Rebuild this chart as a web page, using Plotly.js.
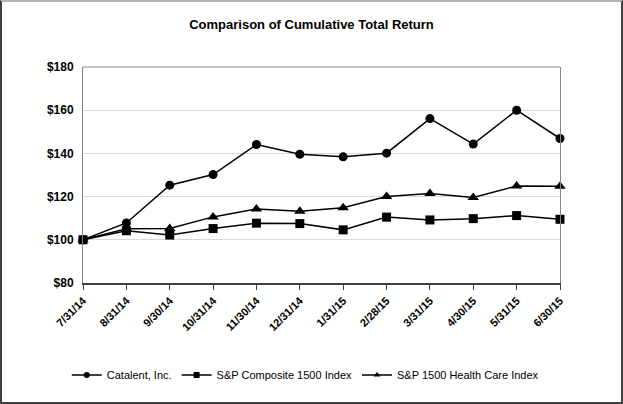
<!DOCTYPE html>
<html><head><meta charset="utf-8">
<script src="https://cdn.plot.ly/plotly-3.0.1.min.js"></script>
<style>
html,body{margin:0;padding:0;background:#fff;}
#wrap{position:relative;width:623px;height:404px;}
#chart{position:absolute;left:0;top:0;width:623px;height:404px;}
#frame{position:absolute;left:0;top:0;width:623px;height:404px;box-sizing:border-box;
border-top:2px solid #b3b3b3;border-left:2px solid #404040;border-right:2px solid #404040;border-bottom:2px solid #404040;pointer-events:none;}
</style></head>
<body><div id="wrap"><div id="chart"></div><div id="frame"></div></div>
<script>
const dates = ["7/31/14","8/31/14","9/30/14","10/31/14","11/30/14","12/31/14","1/31/15","2/28/15","3/31/15","4/30/15","5/31/15","6/30/15"];
const catalent = [100,107.8,125.3,130.2,144.1,139.6,138.4,140.1,156.1,144.3,160.0,146.9];
const sp1500 = [100,104.2,102.2,105.2,107.7,107.5,104.6,110.5,109.2,109.8,111.2,109.5];
const spHealth = [100,105.1,105.2,110.6,114.3,113.2,114.8,120.0,121.4,119.6,124.9,124.8];
const seriesNames = ["Catalent, Inc.","S&P Composite 1500 Index","S&P 1500 Health Care Index"];
const symbols = ['circle','square','triangle-up'];
const yTicks = [80,100,120,140,160,180];

const seriesValues = [catalent, sp1500, spHealth];
const data = [];
seriesValues.forEach((y,i)=>{
  data.push({x: dates, y: y, name: seriesNames[i], type:'scatter', mode:'lines+markers',
    line:{color:'#000', width:1.5}, showlegend:false,
    marker:{symbol:symbols[i], size: symbols[i]==='triangle-up'?10:9, color:'#000'},
    cliponaxis:false});
});
// legend entries (smaller legend markers, as in the reference)
seriesValues.forEach((y,i)=>{
  data.push({x:[null], y:[null], name: seriesNames[i], type:'scatter', mode:'lines+markers',
    line:{color:'#000', width:1.5}, marker:{symbol:symbols[i], size:6, color:'#000'}, showlegend:true});
});
const layout = {
  width:623, height:404,
  margin:{l:83, r:63, t:67, b:121},
  paper_bgcolor:'#fff', plot_bgcolor:'#fff',
  font:{family:'"Liberation Sans", Arial, sans-serif', color:'#000'},
  title:{text:'<b>Comparison of Cumulative Total Return</b>', font:{size:13}, x:0.5, xref:'container', xanchor:'center', y:1-24/404, yref:'container', yanchor:'middle'},
  showlegend:true,
  legend:{orientation:'h', xref:'container', yref:'container', x:0.49, xanchor:'center', y:1-375/404, yanchor:'middle', font:{size:11}, itemwidth:30, tracegroupgap:0},
  xaxis:{type:'category', range:[0,11], tickangle:-45, tickvals:dates, ticktext:dates.map(d=>'<b>'+d+'</b>'), tickfont:{size:11}, ticks:'outside', ticklen:5, tickcolor:'#404040',
    showline:true, linecolor:'#404040', linewidth:2, showgrid:false, zeroline:false},
  yaxis:{range:[80,180], tickvals:yTicks, ticktext:yTicks.map(v=>'<b>$'+v+'</b>'), tickfont:{size:12}, ticks:'', ticklabelstandoff:6,
    showline:true, linecolor:'#868686', linewidth:1, mirror:true, gridcolor:'#d9d9d9', gridwidth:1, zeroline:false},
  shapes:[{type:'line', xref:'paper', yref:'paper', x0:0, x1:1, y0:1, y1:1, line:{color:'#868686', width:1}}]
};
Plotly.newPlot('chart', data, layout, {displayModeBar:false, staticPlot:true});
</script></body></html>
